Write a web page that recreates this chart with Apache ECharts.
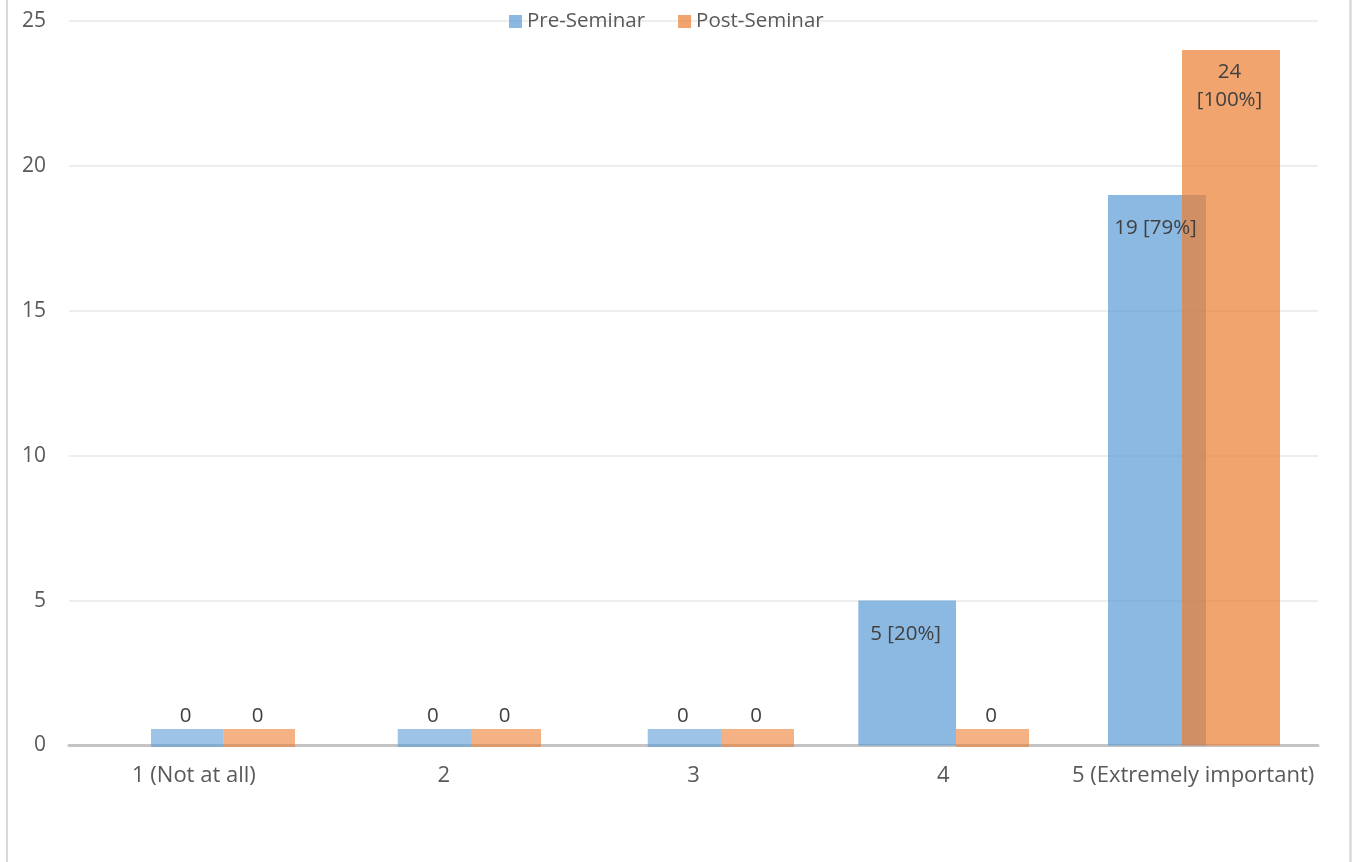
<!DOCTYPE html>
<html><head><meta charset="utf-8">
<script src="https://cdn.jsdelivr.net/npm/echarts@6/dist/echarts.min.js"></script>
<style>html,body{margin:0;padding:0;background:#fff}#c{width:1357px;height:862px}</style>
</head><body><div id="c"></div>
<script>
// ---- data ----
const categories = ['1 (Not at all)', '2', '3', '4', '5 (Extremely important)'];
const seriesNames = ['Pre-Seminar', 'Post-Seminar'];
const preValues = [0, 0, 0, 5, 19];
const postValues = [0, 0, 0, 0, 24];
const preLabels = ['0', '0', '0', '5 [20%]', '19 [79%]'];
const postLabels = ['0', '0', '0', '0', '24\n[100%]'];
const yMin = 0, yMax = 25, yStep = 5;

// ---- layout / style (px offsets of each bar from its category centre) ----
const preSpan = [[-42.9, 29.4], [-46, 27.3], [-45.8, 27.5], [-85, 12.7], [-85.1, 12.9]];
const postSpan = [[29.4, 101.1], [27.3, 97.3], [27.5, 100.5], [12.7, 85.7], [-11.1, 86.9]];
const FONT = 'Open Sans';
const BLUE = [91, 155, 213], ORANGE = [237, 125, 49];
const rgba = (c, a) => `rgba(${c[0]},${c[1]},${c[2]},${a})`;

function makeRender(spans, labels, color, labelDy) {
  return function (params, api) {
    const i = api.value(0), v = api.value(1);
    const base = api.coord([i, 0]);
    const cx = base[0], y0 = base[1];
    const s = spans[i];
    const x = cx + s[0], w = s[1] - s[0];
    let top, bottom, fill, ty;
    if (v === 0) {
      bottom = y0 + 1.5; top = y0 - 16.5; fill = rgba(color, 0.6);
      ty = top - 12.5;
    } else {
      bottom = y0; top = api.coord([i, v])[1]; fill = rgba(color, 0.7);
      ty = top + labelDy;
    }
    return {
      type: 'group',
      children: [
        { type: 'rect', shape: { x: x, y: top, width: w, height: bottom - top }, style: { fill: fill } },
        { type: 'text', z2: 10, style: { text: labels[i], x: x + w / 2 - 1.5, y: ty, align: 'center', verticalAlign: 'middle',
          fill: '#404040', fontSize: 20.5, fontFamily: FONT, lineHeight: 28 } }
      ]
    };
  };
}

const chart = echarts.init(document.getElementById('c'), null, { renderer: 'canvas' });
chart.setOption({
  animation: false,
  backgroundColor: '#fff',
  grid: { left: 69, right: 39, top: 21, bottom: 116.5, containLabel: false, outerBoundsMode: 'none' },
  legend: {
    left: 504, top: 6, icon: 'rect', itemWidth: 13, itemHeight: 13, itemGap: 33,
    textStyle: { fontSize: 20.5, color: '#595959', fontFamily: FONT },
    data: [
      { name: seriesNames[0], itemStyle: { color: rgba(BLUE, 0.7) } },
      { name: seriesNames[1], itemStyle: { color: rgba(ORANGE, 0.7) } }
    ]
  },
  xAxis: {
    type: 'category', data: categories,
    axisLine: { lineStyle: { color: '#c4c4c4', width: 3 } },
    axisTick: { show: false },
    axisLabel: { interval: 0, margin: 19, fontSize: 22, color: '#595959', fontFamily: FONT }
  },
  yAxis: {
    type: 'value', min: yMin, max: yMax, interval: yStep,
    axisLine: { show: false }, axisTick: { show: false },
    axisLabel: { margin: 23, fontSize: 21, color: '#595959', fontFamily: FONT },
    splitLine: { lineStyle: { color: '#eeeeee', width: 2 } }
  },
  graphic: [
    { type: 'line', shape: { x1: 7, y1: 0, x2: 7, y2: 862 }, style: { stroke: '#d9d9d9', lineWidth: 2 } },
    { type: 'line', shape: { x1: 1350.5, y1: 0, x2: 1350.5, y2: 862 }, style: { stroke: '#d9d9d9', lineWidth: 2.5 } }
  ],
  series: [
    { name: seriesNames[0], type: 'custom', clip: false, itemStyle: { color: rgba(BLUE, 0.7) },
      encode: { x: 0, y: 1 }, renderItem: makeRender(preSpan, preLabels, BLUE, 33.5),
      data: preValues.map((v, i) => [i, v]) },
    { name: seriesNames[1], type: 'custom', clip: false, itemStyle: { color: rgba(ORANGE, 0.7) },
      encode: { x: 0, y: 1 }, renderItem: makeRender(postSpan, postLabels, ORANGE, 36),
      data: postValues.map((v, i) => [i, v]) }
  ]
});
</script></body></html>
